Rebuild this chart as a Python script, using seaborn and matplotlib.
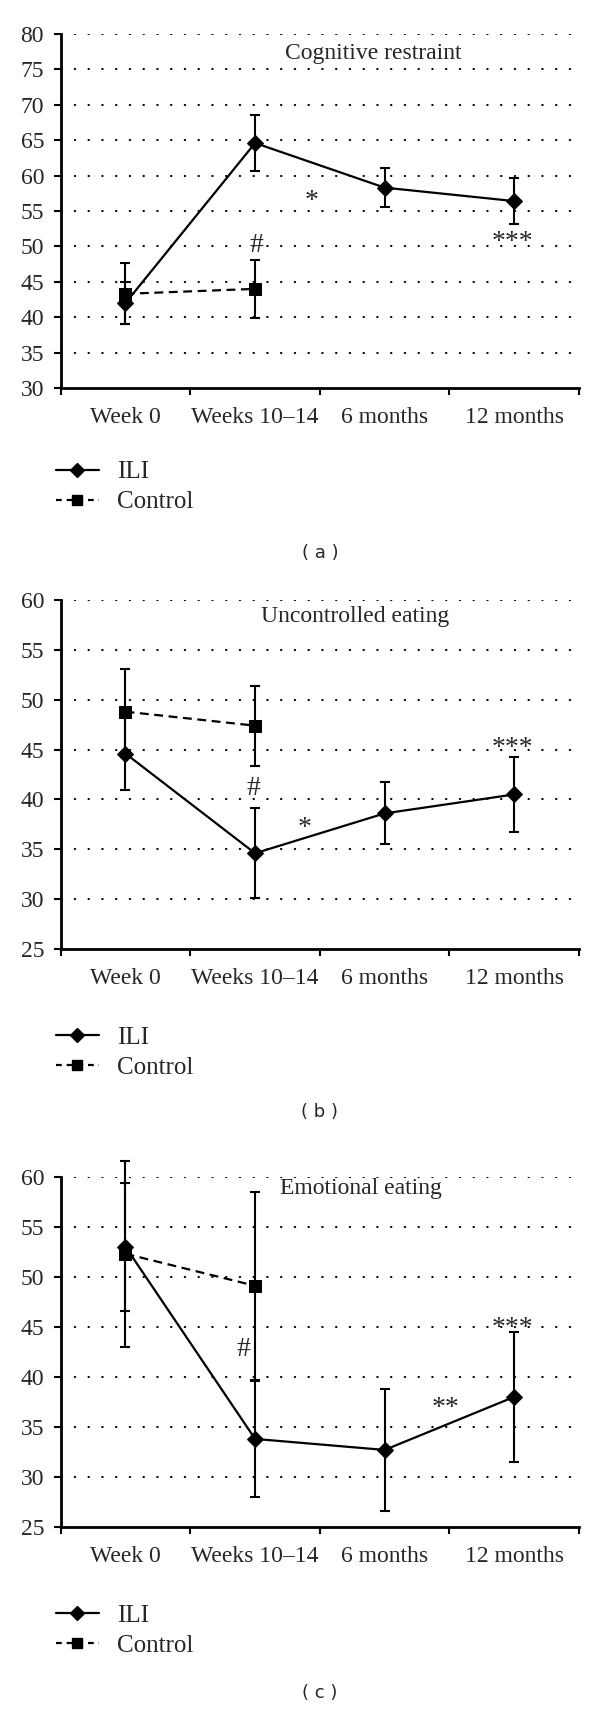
import matplotlib.pyplot as plt
import pandas as pd
import seaborn as sns
from matplotlib.lines import Line2D

# time points shared by the three panels
categories = ["Week 0", "Weeks 10\u201314", "6 months", "12 months"]

# (a) cognitive restraint
cog_ili = [42.0, 64.6, 58.3, 56.4]
cog_ili_err = [3.0, 3.9, 2.8, 3.2]
cog_ctrl = [43.3, 44.0]
cog_ctrl_err = [4.3, 4.1]
cog_marks = [("*", 1.44, 56.3), ("#", 1.01, 50.1), ("***", 2.99, 50.6)]

# (b) uncontrolled eating
unc_ili = [44.6, 34.6, 38.6, 40.5]
unc_ili_err = [3.7, 4.5, 3.1, 3.75]
unc_ctrl = [48.8, 47.4]
unc_ctrl_err = [4.3, 4.0]
unc_marks = [("#", 0.99, 41.1), ("*", 1.38, 37.1), ("***", 2.99, 45.1)]

# (c) emotional eating
emo_ili = [53.0, 33.8, 32.7, 38.0]
emo_ili_err = [6.4, 5.8, 6.1, 6.5]
emo_ctrl = [52.3, 49.1]
emo_ctrl_err = [9.3, 9.4]
emo_marks = [("#", 0.91, 42.7), ("**", 2.47, 36.8), ("***", 2.99, 44.8)]

sns.set_theme(style="white")
plt.rcParams['font.family'] = ['Liberation Serif', 'DejaVu Serif']

W, H = 600, 1709
fig = plt.figure(figsize=(W / 100, H / 100), dpi=100)

AX_LEFT, AX_RIGHT = 60.7, 579


def px_axes(top, bottom):
    return fig.add_axes([AX_LEFT / W, 1 - bottom / H,
                         (AX_RIGHT - AX_LEFT) / W, (bottom - top) / H])


def draw_panel(ax, ili, ili_err, ctrl, ctrl_err, ylim, title, title_xy, marks,
               legend_top, letter, letter_y):
    df = pd.DataFrame({
        "pos": list(range(len(ili))) + list(range(len(ctrl))),
        "score": ili + ctrl,
        "group": ["ILI"] * len(ili) + ["Control"] * len(ctrl),
    })

    for pos, mean, err in ((range(len(ili)), ili, ili_err),
                           (range(len(ctrl)), ctrl, ctrl_err)):
        _, caps, bars = ax.errorbar(pos, mean, yerr=err, fmt='none', ecolor='black',
                                    elinewidth=1.5, capsize=3.5, capthick=1.5, zorder=2)
        for art in list(caps) + list(bars):
            art.set_clip_on(False)

    sns.lineplot(data=df, x="pos", y="score", style="group",
                 style_order=["ILI", "Control"],
                 markers={"ILI": "D", "Control": "s"},
                 dashes={"ILI": "", "Control": (4, 2.5)},
                 color="black", markersize=8.5, markeredgecolor="black",
                 linewidth=1.6, legend=False, ax=ax, zorder=3)

    ax.set_xlim(-0.5, 3.5)
    ax.set_ylim(*ylim)
    ax.set_xlabel("")
    ax.set_ylabel("")

    # category boundaries as major ticks, labels on minor ticks
    ax.set_xticks([-0.5, 0.5, 1.5, 2.5, 3.5])
    ax.set_xticklabels([])
    ax.set_xticks(range(len(categories)), minor=True)
    ax.set_xticklabels(categories, minor=True, fontsize=17)
    ax.tick_params(axis='x', which='major', direction='out', length=5, width=1.5,
                   color='black', bottom=True)
    ax.tick_params(axis='x', which='minor', length=0, pad=14)

    yticks = list(range(ylim[0], ylim[1] + 1, 5))
    ax.set_yticks(yticks)
    ax.set_yticklabels([str(t) for t in yticks], fontsize=17)
    ax.tick_params(axis='y', direction='out', length=5, width=1.5,
                   color='black', left=True, pad=7)

    for t in yticks[1:]:
        ax.axhline(t, color='black', linewidth=1.5, linestyle=(0, (0.2, 6.4)),
                   dash_capstyle='round', zorder=1)

    sns.despine(ax=ax)
    for side in ("left", "bottom"):
        ax.spines[side].set_color("black")
        ax.spines[side].set_linewidth(2)

    ax.text(title_xy[0], title_xy[1], title, fontsize=17, ha='center', va='center')
    for txt, x, y in marks:
        ax.text(x, y, txt, fontsize=20, ha='center', va='center')

    handles = [
        Line2D([], [], color='black', linewidth=1.6, marker='D', markersize=7.5),
        Line2D([], [], color='black', linewidth=1.6, linestyle=(0, (2.6, 2.2)),
               marker='s', markersize=7.5),
    ]
    fig.legend(handles, ["ILI", "Control"], loc='upper left',
               bbox_to_anchor=(56 / W, 1 - legend_top / H),
               bbox_transform=fig.transFigure, frameon=False, fontsize=18,
               handlelength=1.7, handletextpad=0.75, labelspacing=0.3,
               borderpad=0, borderaxespad=0)

    fig.text((AX_LEFT + AX_RIGHT) / 2 / W, 1 - letter_y / H, "( %s )" % letter,
             family='DejaVu Sans', fontsize=13, ha='center', va='center')


ax_a = px_axes(34, 388)
draw_panel(ax_a, cog_ili, cog_ili_err, cog_ctrl, cog_ctrl_err, (30, 80),
           "Cognitive restraint", (1.91, 77.3), cog_marks, 461, "a", 553)

ax_b = px_axes(600, 949)
draw_panel(ax_b, unc_ili, unc_ili_err, unc_ctrl, unc_ctrl_err, (25, 60),
           "Uncontrolled eating", (1.77, 58.3), unc_marks, 1026, "b", 1112)

ax_c = px_axes(1176.7, 1527)
draw_panel(ax_c, emo_ili, emo_ili_err, emo_ctrl, emo_ctrl_err, (25, 60),
           "Emotional eating", (1.82, 58.8), emo_marks, 1604, "c", 1693)

fig.savefig("out.png", dpi=100)
